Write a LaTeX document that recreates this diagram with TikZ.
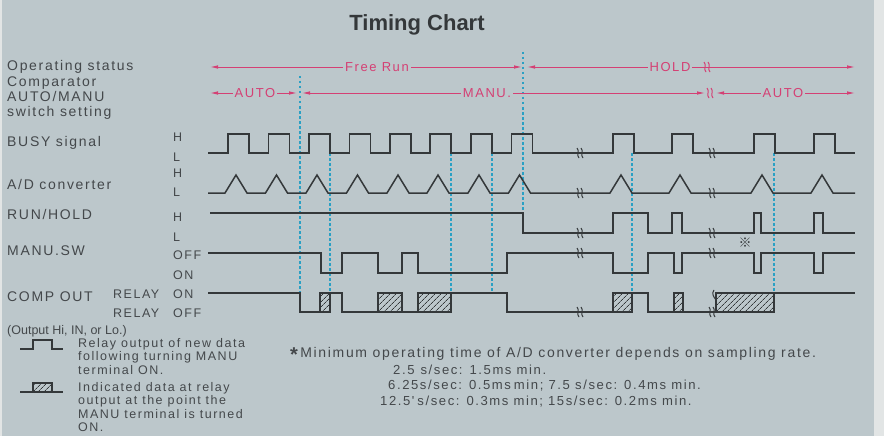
\documentclass[tikz,border=0pt]{standalone}
\usepackage{fontspec}
\setmainfont{Liberation Sans}
\newfontfamily\lblfont[LetterSpace=12]{Liberation Sans}
\newfontfamily\refmarkfont{Noto Sans CJK SC}
\usepackage{tikz}
\usetikzlibrary{arrows.meta, patterns.meta}
\definecolor{bgblue}{RGB}{188,199,203}
\definecolor{edgewhite}{RGB}{226,229,229}
\definecolor{inkgray}{RGB}{52,56,58}
\definecolor{txtgray}{RGB}{68,72,75}
\definecolor{pinkarrow}{RGB}{212,64,116}
\definecolor{cyandot}{RGB}{42,160,196}

\tikzset{
  lbl/.style={font=\lblfont\fontsize{14}{15}\selectfont, text=txtgray, anchor=west, inner sep=0pt},
  lvl/.style={lbl, font=\lblfont\fontsize{12.5}{13}\selectfont},
  lgd/.style={lbl, font=\lblfont\fontsize{12.5}{13.5}\selectfont, align=left, anchor=north west},
  rate/.style={lbl, font=\lblfont\fontsize{13.1}{14}\selectfont},
  wave/.style={draw=inkgray, line width=1.5pt, line join=miter},
  hatchbox/.style={draw=inkgray, line width=1.3pt, pattern={Lines[angle=45,distance=4pt,line width=0.7pt]}, pattern color=inkgray},
  marker/.style={cyandot, line width=1.3pt, dash pattern=on 2.5pt off 2.5pt},
  modearrow/.style={pinkarrow, line width=0.9pt, {Latex[length=8pt,width=3.5pt]}-{Latex[length=8pt,width=3.5pt]}},
  modetext/.style={font=\lblfont\fontsize{13}{14}\selectfont, text=pinkarrow, fill=bgblue, inner xsep=2pt, inner ysep=1pt},
  cutmark/.pic={
    \draw[line width=1pt] (-3,-5) .. controls (0,-2) and (-4,2) .. (-1,5);
    \draw[line width=1pt] (1,-5) .. controls (4,-2) and (0,2) .. (3,5);
  }
}

\begin{document}
\begin{tikzpicture}[x=1pt, y=-1pt]
    % Page and background
    \useasboundingbox (0,0) rectangle (884,436);
    \fill[edgewhite] (0,0) rectangle (884,436);
    \fill[bgblue] (2,0) rectangle (874,436);

    % Title
    \node[font=\bfseries\fontsize{22}{24}\selectfont, text=inkgray] (title) at (417,25) {Timing Chart};

    % Signal names
    \node[lbl] (opstat) at (7,67) {Operating status};
    \node[lbl, align=left] (cmpset) at (7,98) {Comparator\\AUTO/MANU\\switch setting};
    \node[lbl] (busy) at (7,143) {BUSY signal};
    \node[lbl] (adconv) at (7,184) {A/D converter};
    \node[lbl] (runhold) at (7,214) {RUN/HOLD};
    \node[lbl] (manusw) at (7,251) {MANU.SW};
    \node[lbl] (compout) at (7,297) {COMP OUT};

    % Level names
    \node[lvl] (busyH) at (173,137) {H};
    \node[lvl] (busyL) at (173,157) {L};
    \node[lvl] (adH) at (173,173) {H};
    \node[lvl] (adL) at (173,192) {L};
    \node[lvl] (rhH) at (173,217) {H};
    \node[lvl] (rhL) at (173,237) {L};
    \node[lvl] (swOff) at (173,255) {OFF};
    \node[lvl] (swOn) at (173,275) {ON};
    \node[lvl] (relay1) at (113,294) {RELAY};
    \node[lvl] (relayOn) at (173,294) {ON};
    \node[lvl] (relay2) at (113,313) {RELAY};
    \node[lvl] (relayOff) at (173,313) {OFF};

    % Dotted time markers
    \draw[marker] (300,76) -- (300,293);
    \draw[marker] (523,52) -- (523,213);
    \foreach \t in {330,451,492,632,774}
        \draw[marker] (\t,153) -- (\t,293);

    % BUSY signal
    \draw[wave] (208,153)
        \foreach \r in {228,268.5,309,349.5,390,430,471,511.5,613,672,754,814}
            { -- (\r,153) -- (\r,134) -- (\r+21,134) -- (\r+21,153) }
        -- (855,153);

    % A/D converter
    \draw[wave] (208,193)
        \foreach \r in {228,268.5,309,349.5,390,430,471,511.5,613,672,754,814}
            { -- (\r-3,193) -- (\r+8,175) -- (\r+19,193) }
        -- (855,193);

    % RUN/HOLD
    \draw[wave] (210,213) -- (523,213) -- (523,233)
        \foreach \a/\b in {613/648,672/682,754/761,814/823}
            { -- (\a,233) -- (\a,213) -- (\b,213) -- (\b,233) }
        -- (855,233);

    % MANU.SW
    \draw[wave] (208,253)
        \foreach \a/\b in {321/342,378/402,418/507,613/648,674/682,754/761,814/823}
            { -- (\a,253) -- (\a,273) -- (\b,273) -- (\b,253) }
        -- (855,253);

    % COMP OUT
    \draw[hatchbox] (320,312) rectangle (330,293);
    \draw[hatchbox] (378,312) rectangle (402,293);
    \draw[hatchbox] (418,312) rectangle (451,293);
    \draw[hatchbox] (613,312) rectangle (632,293);
    \draw[hatchbox] (674,312) rectangle (683,293);
    \draw[hatchbox] (716,312) rectangle (774,293);
    \draw[wave] (208,293) -- (300,293) -- (300,312) -- (320,312);
    \draw[wave] (330,293) -- (342,293) -- (342,312) -- (378,312);
    \draw[wave] (402,312) -- (418,312);
    \draw[wave] (451,293) -- (507,293) -- (507,312) -- (613,312);
    \draw[wave] (632,293) -- (648,293) -- (648,312) -- (674,312);
    \draw[wave] (683,312) -- (716,312);
    \draw[wave] (774,293) -- (855,293);
    \draw[wave, line width=1pt] (714,290) .. controls (711,294) and (714,297) .. (716,300);

    % Breaks in the time axis
    \foreach \y in {153,193,233,253,312}
    {
        \pic[color=inkgray] at (580,\y) {cutmark};
        \pic[color=inkgray] at (712,\y) {cutmark};
    }

    % Operating status
    \coordinate (freeL) at (210,67);
    \coordinate (freeR) at (522,67);
    \coordinate (holdL) at (527,67);
    \coordinate (holdR) at (855,67);
    \draw[modearrow] (freeL) -- (freeR);
    \draw[modearrow] (holdL) -- (holdR);
    \node[modetext] (freerun) at (377,67) {Free Run};
    \node[modetext] (hold) at (670,67) {HOLD};
    \pic[color=pinkarrow] at (707,67) {cutmark};

    % AUTO/MANU switch setting
    \coordinate (autoL) at (210,93);
    \coordinate (autoR) at (297,93);
    \coordinate (manuL) at (302,93);
    \coordinate (manuR) at (705,93);
    \coordinate (auto2L) at (716,93);
    \coordinate (auto2R) at (855,93);
    \draw[modearrow] (autoL) -- (autoR);
    \draw[modearrow] (manuL) -- (manuR);
    \draw[modearrow] (auto2L) -- (auto2R);
    \node[modetext] (auto) at (255,93) {AUTO};
    \node[modetext] (manu) at (487,93) {MANU.};
    \node[modetext] (auto2) at (783,93) {AUTO};
    \pic[color=pinkarrow] at (710,93) {cutmark};

    % Reference mark
    \node[text=inkgray, font=\refmarkfont\fontsize{13}{13}\selectfont, inner sep=0pt] (refmark) at (745,243) {※};

    % Legend
    \node[lbl, font=\fontsize{12.5}{13}\selectfont] (outnote) at (7,331) {(Output Hi, IN, or Lo.)};
    \draw[wave, line width=1.3pt] (20,349) -- (33,349) -- (33,340) -- (52,340) -- (52,349) -- (63,349);
    \node[lgd] (newdata) at (78,338) {Relay output of new data\\following turning MANU\\terminal ON.};
    \draw[hatchbox, line width=1.1pt] (33,392) rectangle (52,383);
    \draw[wave, line width=1.3pt] (20,392) -- (33,392);
    \draw[wave, line width=1.3pt] (52,392) -- (63,392);
    \node[lgd] (inddata) at (78,382) {Indicated data at relay\\output at the point the\\MANU terminal is turned\\ON.};

    % Note on operating time
    \node[lbl] (note) at (290,354) {\raisebox{-4pt}{\fontsize{20}{20}\selectfont\bfseries *}\,Minimum operating time of A/D converter depends on sampling rate.};
    \node[rate] (rate1) at (393,370) {2.5\hspace{6pt}s/sec: 1.5ms min.};
    \node[rate] (rate2) at (388,386) {6.25s/sec: 0.5ms\hspace{3pt}min; 7.5 s/sec: 0.4ms min.};
    \node[rate] (rate3) at (380,402) {12.5'\hspace{3pt}s/sec: 0.3ms min;\hspace{5pt}15s/sec: 0.2ms min.};
\end{tikzpicture}
\end{document}
